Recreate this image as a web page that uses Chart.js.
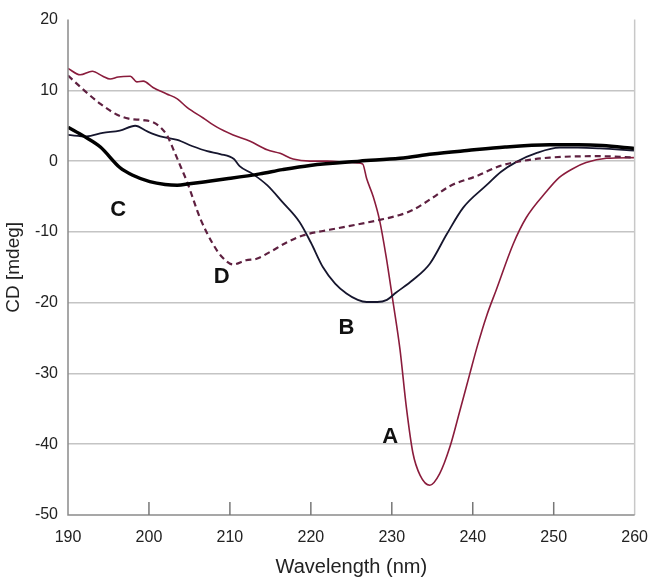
<!DOCTYPE html>
<html><head><meta charset="utf-8">
<script src="https://cdn.jsdelivr.net/npm/chart.js@4"></script>
<style>html,body{margin:0;padding:0;background:#fff}#wrap{width:653px;height:584px}</style>
</head><body><div id="wrap"><canvas id="c" width="653" height="584"></canvas></div>
<script>
// Curve A
const aWave = [190,191.5,193,194.3,195.2,196.2,197.7,198.5,199.3,200.5,202.2,203.5,204.7,206.7,208.4,210.4,212.5,214.6,216.2,217.8,219.9,222,225,226.4,226.9,227.7,228.5,229.3,230.1,231,231.8,232.6,233.5,234.7,235.9,237.2,238.4,239.6,240.6,241.7,242.9,245,246.6,249.1,250.7,252.3,254,256.5,260];
const aCD   = [13.1,12.2,12.7,12.0,11.6,11.9,12.0,11.2,11.3,10.4,9.5,8.8,7.6,6.1,4.8,3.7,2.8,1.6,1.1,0.3,0,0,-0.2,-0.4,-2.5,-5,-8.4,-13.5,-19.5,-26.5,-34.8,-41.2,-44.4,-45.8,-44.2,-40.3,-35.3,-30.2,-26,-21.9,-18.2,-11.7,-8,-4.3,-2.3,-1.1,-0.2,0.4,0.5];
// Curve B
const bWave = [190,192.3,194.3,196.4,198.3,199.8,201.4,203.5,205.4,207.2,208.8,210.5,211.2,212.8,214.6,216.5,218.6,220,221.5,223,224.4,225.8,226.9,228.2,229.4,230.5,232.6,234.7,236.8,238.8,241.7,243.5,245.4,248,250.7,253,255.7,260];
const bCD   = [3.7,3.5,4.0,4.3,5.0,4.2,3.5,3.0,2.1,1.4,1.0,0.3,-0.7,-1.8,-3.4,-5.8,-8.6,-11.5,-15,-17.3,-18.7,-19.6,-19.9,-19.9,-19.6,-18.6,-16.8,-14.5,-10.3,-6.6,-3.4,-1.5,-0.1,1.2,1.9,1.9,1.8,1.5];
// Curve C
const cWave = [190,192,194,196.4,198,200.1,202,203.5,205,207,209.6,213.7,216.5,219.9,226,231,235,239.3,244,249.5,253,256,260];
const cCD   = [4.8,3.5,2.0,-0.9,-2.0,-2.9,-3.3,-3.4,-3.2,-2.9,-2.5,-1.8,-1.2,-0.6,0,0.4,1.0,1.5,2.0,2.3,2.3,2.2,1.8];
// Curve D
const dWave = [190,192,194,196,197.5,199.3,200.5,201.4,202.3,203,204,204.7,206.3,207.9,209,210.4,212,213.3,215,217,219,222.3,225.5,228.5,231,232.6,235,237.2,240.5,243.3,246,249.5,255.7,260];
const dCD   = [12.1,10,8.1,6.6,6.0,5.8,5.5,4.8,3.5,1.7,-1.0,-2.9,-8,-11.7,-13.5,-14.6,-14,-13.8,-12.8,-11.5,-10.5,-9.7,-9.0,-8.3,-7.6,-6.9,-5.2,-3.5,-2.1,-0.7,0,0.5,0.7,0.5];
// Curve labels
const labelNames = ['A','B','C','D'];
const labelX = [229.8,224.4,196.2,209];
const labelY = [-38.9,-23.6,-6.9,-16.3];
// Axis ticks
const xTicks = [190,200,210,220,230,240,250,260];
const yTicks = [20,10,0,-10,-20,-30,-40,-50];

const pts = (xs, ys) => xs.map((x, i) => ({x, y: ys[i]}));
const FONT = '"Liberation Sans", Arial, sans-serif';

const extras = {
  id: 'extras',
  afterDraw(chart) {
    const ctx = chart.ctx, xs = chart.scales.x, ys = chart.scales.y, ca = chart.chartArea;
    ctx.save();
    ctx.strokeStyle = '#c8c8c8'; ctx.lineWidth = 1.5;
    ctx.beginPath(); ctx.moveTo(ca.right, ca.top); ctx.lineTo(ca.right, ca.bottom); ctx.stroke();
    ctx.strokeStyle = '#8a8a8a'; ctx.lineWidth = 1.5;
    ctx.beginPath(); ctx.moveTo(ca.left, ca.top); ctx.lineTo(ca.left, ca.bottom); ctx.lineTo(ca.right, ca.bottom); ctx.stroke();
    ctx.strokeStyle = '#777'; ctx.lineWidth = 1.5;
    xTicks.forEach(v => {
      if (v === 190 || v === 260) return;
      const px = xs.getPixelForValue(v);
      ctx.beginPath(); ctx.moveTo(px, ca.bottom); ctx.lineTo(px, ca.bottom - 13); ctx.stroke();
    });
    ctx.fillStyle = '#111'; ctx.font = 'bold 22px ' + FONT;
    ctx.textAlign = 'center'; ctx.textBaseline = 'middle';
    labelNames.forEach((n, i) => ctx.fillText(n, xs.getPixelForValue(labelX[i]), ys.getPixelForValue(labelY[i])));
    ctx.restore();
  }
};

new Chart(document.getElementById('c'), {
  type: 'line',
  data: {
    datasets: [
      {label: 'C', data: pts(cWave, cCD), borderColor: '#000', borderWidth: 3.5, pointRadius: 0, cubicInterpolationMode: 'monotone', fill: false},
      {label: 'D', data: pts(dWave, dCD), borderColor: '#5e2040', borderWidth: 2.2, borderDash: [6, 4], pointRadius: 0, cubicInterpolationMode: 'monotone', fill: false},
      {label: 'B', data: pts(bWave, bCD), borderColor: '#16162e', borderWidth: 1.8, pointRadius: 0, cubicInterpolationMode: 'monotone', fill: false},
      {label: 'A', data: pts(aWave, aCD), borderColor: '#8a1c3c', borderWidth: 1.6, pointRadius: 0, cubicInterpolationMode: 'monotone', fill: false}
    ]
  },
  options: {
    responsive: false, animation: false,
    layout: {padding: {top: 8, right: 18, left: 0, bottom: 0}},
    plugins: {legend: {display: false}, tooltip: {enabled: false}},
    scales: {
      x: {
        type: 'linear', min: 190, max: 260,
        afterBuildTicks: s => { s.ticks = xTicks.map(v => ({value: v})); },
        afterFit: s => { s.height = 69; },
        border: {display: false},
        grid: {display: false},
        ticks: {color: '#222', font: {size: 16, family: FONT}, padding: 5, maxRotation: 0},
        title: {display: true, text: 'Wavelength (nm)', color: '#222', font: {size: 20, family: FONT}, padding: {top: 0, bottom: 5}}
      },
      y: {
        type: 'linear', min: -50, max: 20,
        afterBuildTicks: s => { s.ticks = yTicks.map(v => ({value: v})); },
        afterFit: s => { s.width = 68; },
        border: {display: false},
        grid: {drawTicks: false, lineWidth: 1.5, color: c => (c.tick && (c.tick.value === 20 || c.tick.value === -50)) ? 'rgba(0,0,0,0)' : '#c4c4c4'},
        ticks: {color: '#222', font: {size: 16, family: FONT}, padding: 10},
        title: {display: true, text: 'CD [mdeg]', color: '#222', font: {size: 19, family: FONT}, padding: {top: 2, bottom: 0}}
      }
    }
  },
  plugins: [extras]
});
</script></body></html>
